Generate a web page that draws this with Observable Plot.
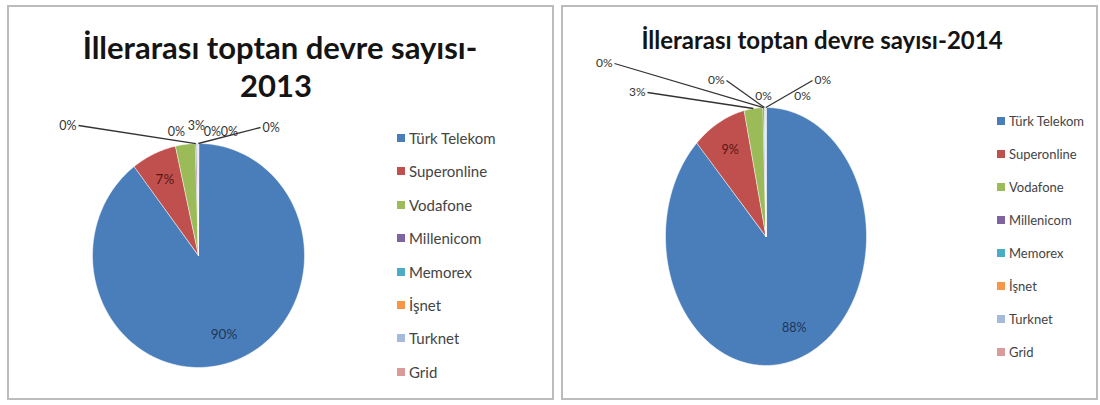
<!DOCTYPE html>
<html><head><meta charset="utf-8">
<script src="https://cdn.jsdelivr.net/npm/d3@7"></script>
<script src="https://cdn.jsdelivr.net/npm/@observablehq/plot@0.6"></script>
<style>
html,body{margin:0;padding:0;background:#fff}
body{width:1100px;height:405px;position:relative;overflow:hidden;font-family:Lato,"Open Sans",sans-serif}
.panel{position:absolute;border:2px solid #bcbcbc;box-sizing:border-box;background:#fff}
.title{position:absolute;font-weight:bold;text-align:center;color:#141414;white-space:nowrap;font-family:Lato,sans-serif}
.layer{position:absolute;left:0;top:0}
.lg{position:absolute}
.lg .lg13-swatch,.lg .lg14-swatch{height:33.4px;padding:0 !important;margin:0 !important}
.lg .lg14-swatch{height:33px}
.lg svg{margin-right:4px !important}
</style>
</head><body>
<div class="panel" style="left:7px;top:5px;width:547px;height:395px"></div>
<div class="panel" style="left:561px;top:5px;width:537px;height:395px"></div>
<div id="root"></div>
<script>
// ---- data ----
const companies = ["Türk Telekom","Superonline","Vodafone","Millenicom","Memorex","İşnet","Turknet","Grid"];
const share2013 = [89.6, 6.9, 3.0, 0.2, 0.1, 0.1, 0.05, 0.05];
const share2014 = [87.9, 8.6, 3.0, 0.2, 0.1, 0.1, 0.05, 0.05];
const colors = ["#4A7EBB","#C0504D","#9BBB59","#8064A2","#4BACC6","#F79646","#A5BBD9","#D99A98"];
const titles2013 = ["İllerarası toptan devre sayısı-", "2013"];
const title2014 = "İllerarası toptan devre sayısı-2014";

// ---- layout ----
const pie2013 = {cx:198, cy:255, rx:106, ry:112, f:0.75};
const pie2014 = {cx:765.5, cy:236, rx:100.5, ry:129, f:0.76};
// small slice labels (Vodafone, Millenicom, Memorex, İşnet, Turknet, Grid): [px, py, anchor, leader]
const small2013 = [[196,125,"middle",0],[76,125,"end",1],[176,131,"middle",0],[212,131,"middle",0],[229,131,"middle",0],[262,127,"start",1]];
const small2014 = [[645,92,"end",1],[612,63,"end",1],[724,80,"end",1],[763,96,"middle",0],[802,96,"middle",0],[814,80,"start",1]];

const fmt = d3.format(".0%");
const root = document.getElementById("root");

function drawPie(shares, P, small, fonts) {
  const rows = companies.map((name, i) => ({name, v: shares[i]}));
  const arcs = d3.pie().sort(null).value(d => d.v)(rows);
  const pts = [];
  for (const a of arcs) {
    pts.push({name: a.data.name, x: 0, y: 0});
    const n = Math.max(2, Math.ceil((a.endAngle - a.startAngle) / (Math.PI / 180)));
    for (let k = 0; k <= n; k++) {
      const t = a.startAngle + (a.endAngle - a.startAngle) * k / n;
      pts.push({name: a.data.name, x: Math.sin(t), y: Math.cos(t)});
    }
  }
  const toX = px => (px - P.cx) / P.rx, toY = py => (P.cy - py) / P.ry;
  const inside = [], outside = [], leaders = [];
  let s = 0;
  for (const a of arcs) {
    const mid = (a.startAngle + a.endAngle) / 2;
    if (a.data.v >= 5) {
      inside.push({x: P.f * Math.sin(mid), y: P.f * Math.cos(mid), t: fmt(a.data.v / 100), name: a.data.name});
    } else {
      const [px, py, anchor, lead] = small[s++];
      outside.push({x: toX(px), y: toY(py), t: fmt(a.data.v / 100), anchor});
      if (lead) {
        const ex = anchor === "end" ? px + 2 : anchor === "start" ? px - 2 : px;
        leaders.push({x1: Math.sin(mid), y1: Math.cos(mid), x2: toX(ex), y2: toY(py)});
      }
    }
  }
  const textMarks = ["start","middle","end"].map(an =>
    Plot.text(outside.filter(d => d.anchor === an), {x: "x", y: "y", text: "t", textAnchor: an, fontSize: fonts.small, fill: "#333"}));
  const svg = Plot.plot({
    width: 1100, height: 405, margin: 0,
    x: {domain: [-1, 1], range: [P.cx - P.rx, P.cx + P.rx], axis: null},
    y: {domain: [-1, 1], range: [P.cy + P.ry, P.cy - P.ry], axis: null},
    color: {domain: companies, range: colors},
    style: {background: "transparent", fontFamily: "Lato, sans-serif", overflow: "visible"},
    marks: [
      Plot.line(pts, {x: "x", y: "y", z: "name", fill: "name", stroke: "white", strokeWidth: 0.5, curve: "linear-closed"}),
      Plot.link(leaders, {x1: "x1", y1: "y1", x2: "x2", y2: "y2", stroke: "#333", strokeWidth: 1.3}),
      ...textMarks,
      Plot.text(inside, {x: "x", y: "y", text: "t", fontSize: fonts.inside, fill: d => d.name === companies[0] ? "#1f3556" : "#5a1614"})
    ]
  });
  svg.classList.add("layer");
  root.appendChild(svg);
}

function drawLegend(cls, left, top, font, width) {
  const lg = Plot.legend({
    color: {domain: companies, range: colors},
    legend: "swatches", columns: 1, swatchSize: 8, className: cls,
    style: {fontFamily: "Lato, sans-serif", fontSize: font + "px", color: "#444", width: width + "px", margin: 0}
  });
  const box = document.createElement("div");
  box.className = "lg";
  box.style.left = left + "px";
  box.style.top = top + "px";
  box.appendChild(lg);
  root.appendChild(box);
}

function addTitle(text, cx, cy, size) {
  const d = document.createElement("div");
  d.className = "title";
  d.textContent = text;
  d.style.fontSize = size + "px";
  d.style.lineHeight = size + "px";
  d.style.left = (cx - 300) + "px";
  d.style.width = "600px";
  d.style.top = (cy - size / 2) + "px";
  root.appendChild(d);
}

addTitle(titles2013[0], 280, 47, 31);
addTitle(titles2013[1], 276, 85, 31);
addTitle(title2014, 822, 40, 24);

drawPie(share2013, pie2013, small2013, {small: 12.5, inside: 13.5});
drawPie(share2014, pie2014, small2014, {small: 12, inside: 12.5});

drawLegend("lg13", 397, 138 - 16.7, 15, 140);
drawLegend("lg14", 997, 121 - 16.5, 13, 100);
</script>
</body></html>
